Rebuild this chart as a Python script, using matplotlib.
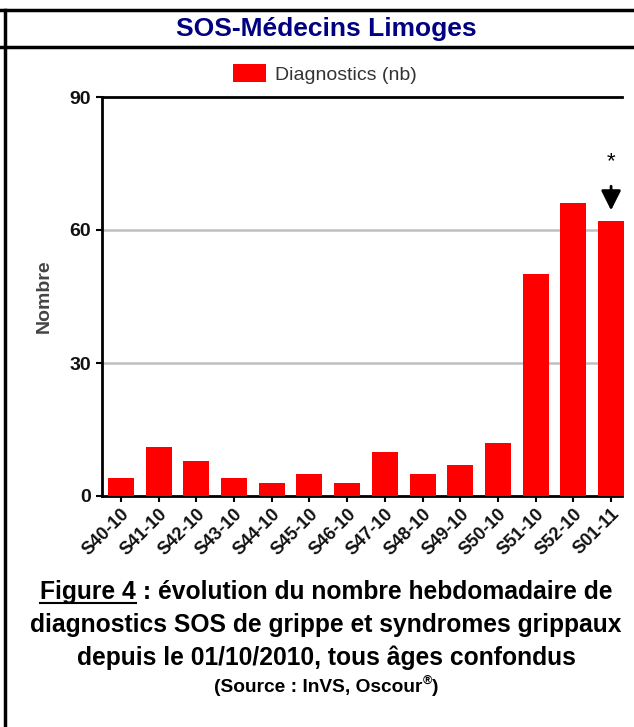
import matplotlib
matplotlib.use("Agg")
import matplotlib.pyplot as plt
from matplotlib.lines import Line2D

weeks = ["S40-10", "S41-10", "S42-10", "S43-10", "S44-10", "S45-10", "S46-10",
         "S47-10", "S48-10", "S49-10", "S50-10", "S51-10", "S52-10", "S01-11"]
diagnostics = [4, 11, 8, 4, 3, 5, 3, 10, 5, 7, 12, 50, 66, 62]
yticks = [0, 30, 60, 90]
series_label = "Diagnostics (nb)"
title = "SOS-Médecins Limoges"
ylabel = "Nombre"

W, H = 634, 727
fig = plt.figure(figsize=(W / 100, H / 100), dpi=100)

FONT = ["Liberation Sans", "DejaVu Sans"]


def fx(px):
    return px / W


def fy(py):
    return 1 - py / H


ax = fig.add_axes([fx(102), fy(496), fx(622) - fx(102), fy(97) - fy(496)])
x = list(range(len(weeks)))
bars = ax.bar(x, diagnostics, width=0.69, color="#FF0000", zorder=3, clip_on=False)
ax.set_xlim(-0.5, 13.29)
ax.set_ylim(0, 90)
ax.set_yticks(yticks)
ax.set_yticklabels([str(v) for v in yticks], family=FONT, fontweight="bold",
                   fontsize=14, color="#111111")
ax.set_xticks(x)
ax.set_xticklabels(weeks, rotation=45, ha="right", va="top", rotation_mode="anchor",
                   family=FONT, fontweight="bold", fontsize=13, color="#111111")
ax.tick_params(axis="both", direction="out", length=4, width=1.5, color="black")
ax.tick_params(axis="y", pad=4)
ax.tick_params(axis="x", pad=3)
for s in ["left", "top", "bottom"]:
    ax.spines[s].set_color("black")
    ax.spines[s].set_linewidth(2)
ax.spines["right"].set_visible(False)
for v in [30, 60]:
    ax.axhline(v, color="#C0C0C0", lw=1.8, zorder=1)
ax.set_ylabel(ylabel, family=FONT, fontweight="bold", fontsize=14, color="#444444",
              labelpad=12)

# annotation arrow on last week
ax.annotate("", xy=(13, 63.8), xytext=(13, 70.5),
            arrowprops=dict(arrowstyle="-|>", color="black", lw=2, mutation_scale=30))
ax.text(13, 75.5, "*", ha="center", va="center", fontsize=16, color="black", family=FONT)

# legend
fig.legend([bars], [series_label], loc="center", bbox_to_anchor=(fx(325), fy(74)),
           frameon=False, prop=dict(family=FONT, size=14), handlelength=1.7,
           handleheight=1.0, handletextpad=0.45, borderpad=0, labelcolor="#333333")

# title
fig.text(fx(326), fy(29), title, ha="center", va="center", family=FONT,
         fontweight="bold", fontsize=19, color="#000080")

# borders
lw = 2.5
fig.add_artist(Line2D([0, 1], [fy(10), fy(10)], transform=fig.transFigure, color="black", lw=lw))
fig.add_artist(Line2D([0, 1], [fy(47), fy(47)], transform=fig.transFigure, color="black", lw=lw))
fig.add_artist(Line2D([fx(5), fx(5)], [fy(10), 0], transform=fig.transFigure, color="black", lw=lw))

# caption
fig.canvas.draw()
renderer = fig.canvas.get_renderer()


def place_pieces(pieces, cx, cy, underline_first=False):
    texts = []
    for s, size, dy in pieces:
        t = fig.text(0, fy(cy + dy), s, ha="left", va="center", family=FONT,
                     fontweight="bold", fontsize=size, color="black")
        texts.append(t)
    widths = [t.get_window_extent(renderer).width for t in texts]
    total = sum(widths)
    start = cx - total / 2
    cur = start
    for t, w in zip(texts, widths):
        t.set_x(fx(cur))
        cur += w
    if underline_first:
        fig.add_artist(Line2D([fx(start), fx(start + widths[0])], [fy(cy + 11), fy(cy + 11)],
                              transform=fig.transFigure, color="black", lw=1.5))


cap_size = 17.7
place_pieces([("Figure 4", cap_size, 0), (" : évolution du nombre hebdomadaire de", cap_size, 0)],
             326, 592, underline_first=True)
place_pieces([("diagnostics SOS de grippe et syndromes grippaux", cap_size, 0)], 326, 625)
place_pieces([("depuis le 01/10/2010, tous âges confondus", cap_size, 0)], 326, 658)
place_pieces([("(Source : InVS, Oscour", 13.8, 0), ("®", 9, -7), (")", 13.8, 0)], 326, 688)

fig.savefig("out.png", dpi=100)
